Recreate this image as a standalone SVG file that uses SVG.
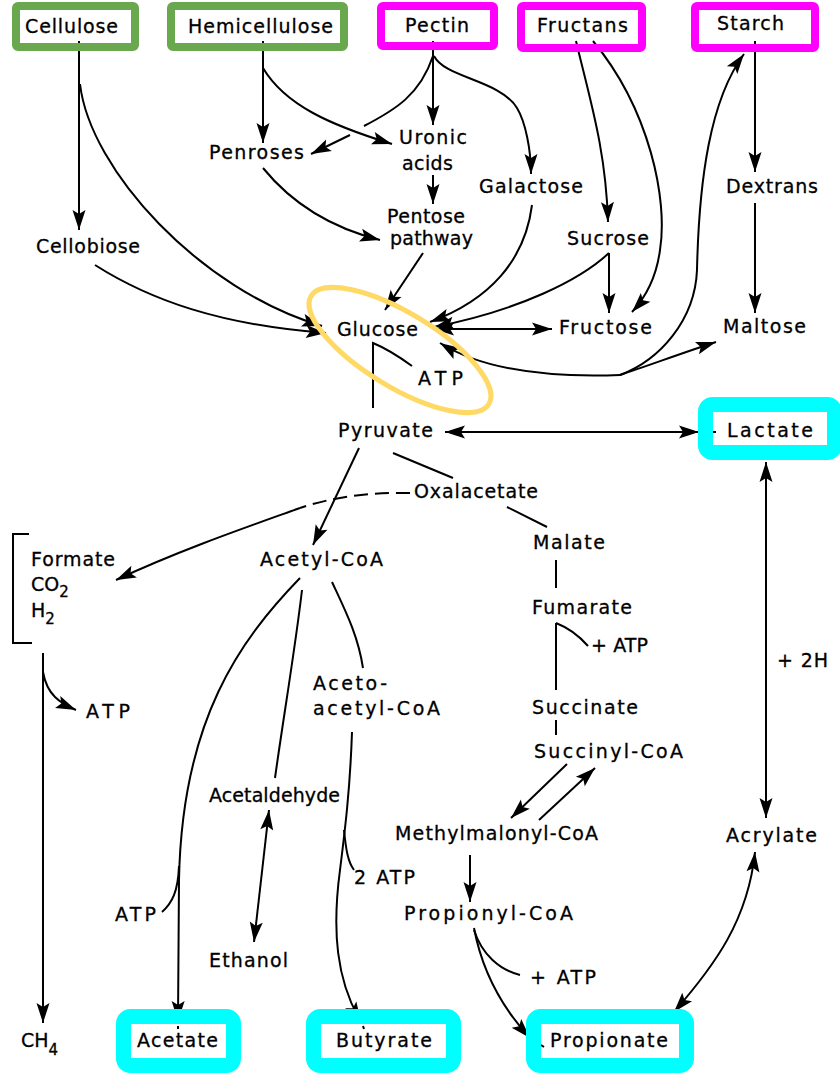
<svg xmlns="http://www.w3.org/2000/svg" width="840" height="1075" viewBox="0 0 840 1075">
<defs>
<style>
.ln{fill:none;stroke:#000;stroke-width:2}
.ar{marker-end:url(#ah)}
.ar2{marker-start:url(#ah);marker-end:url(#ah)}
.as{marker-start:url(#ah)}
.dash{stroke-dasharray:14 7}
.t{font-family:"DejaVu Sans","Liberation Sans",Arial,sans-serif;font-size:19px;fill:#000;stroke:#000;stroke-width:0.3}
.sub{font-size:15px}
.g{fill:none;stroke:#6aa84f;stroke-width:8}
.m{fill:none;stroke:#ff00ff;stroke-width:8}
.c{fill:none;stroke:#00ffff;stroke-width:15}
.hl{fill:none;stroke:#ffd966;stroke-width:5}
</style>
<marker id="ah" viewBox="-21 -7 22 14" markerWidth="22" markerHeight="14" refX="0" refY="0" orient="auto-start-reverse" markerUnits="userSpaceOnUse">
<path d="M0,0 L-20,-6.5 L-16,0 L-20,6.5 Z" fill="#000"/>
</marker>
</defs>
<rect width="840" height="1075" fill="#fff"/>

<g id="connectors">
<path class="ln ar" d="M79,41 L79,230"/>
<path class="ln ar" d="M80,84 C90,170 200,290 322,326"/>
<path class="ln ar" d="M95,265 C150,300 220,325 326,333"/>
<path class="ln ar" d="M263,41 L263,143"/>
<path class="ln ar" d="M263,68 C285,105 330,125 392,144"/>
<path class="ln" d="M433,56 C420,95 395,110 364,126"/>
<path class="ln ar" d="M350,135 L311,154"/>
<path class="ln ar" d="M433,41 L433,125"/>
<path class="ln ar" d="M434,56 C445,78 500,80 517,108 C525.5,122 531,150 531,174"/>
<path class="ln ar" d="M433,175 L433,204"/>
<path class="ln ar" d="M263,168 C285,195 320,225 380,240"/>
<path class="ln ar" d="M423,253 L385,310"/>
<path class="ln ar" d="M532,205 C525,260 490,300 430,322"/>
<path class="ln ar" d="M576,41 C590,100 606,150 608,222"/>
<path class="ln ar" d="M593,41 C650,110 668,200 660,250 C656,280 645,298 632,312"/>
<path class="ln ar" d="M609,253 C580,280 520,310 434,327"/>
<path class="ln ar" d="M609,253 L609,313"/>
<path class="ln ar2" d="M434,329 L552,329"/>
<path class="ln as" d="M440,343 C480,368 540,378 620,375"/>
<path class="ln ar" d="M620,375 C660,360 695,320 697,270 C699,180 710,100 744,54"/>
<path class="ln ar" d="M620,375 C650,365 685,352 716,342"/>
<path class="ln ar" d="M755,41 L755,172"/>
<path class="ln ar" d="M755,203 L755,313"/>
<path class="ln" d="M373,408 L373,343 Q390,350 412,366"/>
<path class="ln ar2" d="M445,432 L699,432"/>
<path class="ln" d="M713,432 L716,432"/>
<path class="ln ar2" d="M766,462 L766,818"/>
<path class="ln ar" d="M359,448 L313,545"/>
<path class="ln" d="M393,453 L453,478"/>
<path class="ln" d="M507,507 L547,527"/>
<path class="ln dash" d="M410,493 C365,492 330,498 300,508"/>
<path class="ln ar" d="M300,508 C250,526 180,550 116,580"/>
<path class="ln ar" d="M300,578 C240,640 182,720 179,880 L178,1021"/>
<path class="ln" d="M178,1026 L178,1029"/>
<path class="ln" d="M179,866 C178,892 172,903 162,912"/>
<path class="ln" d="M332,582 C345,610 358,635 363,668"/>
<path class="ln" d="M302,590 C295,650 283,720 275,778"/>
<path class="ln ar2" d="M269,810 L254,942"/>
<path class="ln ar" d="M352,732 C350,790 345,830 340,870 C332,930 336,980 361,1022"/>
<path class="ln" d="M363,1026 L364,1029"/>
<path class="ln" d="M344,830 C346,850 348,862 354,870"/>
<path class="ln ar" d="M43,653 L43,1023"/>
<path class="ln ar" d="M43,672 C47,695 60,703 76,710"/>
<path class="ln" d="M556,560 L556,588"/>
<path class="ln" d="M556,623 L556,690 M556,623 Q574,630 588,646"/>
<path class="ln" d="M556,720 L556,735"/>
<path class="ln ar" d="M567,764 L511,818"/>
<path class="ln ar" d="M539,820 L595,768"/>
<path class="ln ar" d="M470,855 L470,902"/>
<path class="ln ar" d="M474,928 C480,960 495,1000 530,1038"/>
<path class="ln" d="M541,1045 L544,1047"/>
<path class="ln" d="M474,930 C482,955 500,970 520,975"/>
<path class="ln ar2" d="M755,852 C748,920 715,965 674,1012"/>
<path class="ln" d="M29,534 L13,534 L13,643 L32,643"/>
</g>

<g id="cellulose"><rect class="g" x="16" y="6" width="119" height="41" rx="2"/><text class="t" x="25" y="33" textLength="93" lengthAdjust="spacing">Cellulose</text></g>
<g id="hemicellulose"><rect class="g" x="171" y="6" width="173" height="41" rx="2"/><text class="t" x="188" y="33" textLength="145" lengthAdjust="spacing">Hemicellulose</text></g>
<g id="pectin"><rect class="m" x="381" y="6" width="113" height="40" rx="2"/><text class="t" x="405" y="32" textLength="64" lengthAdjust="spacing">Pectin</text></g>
<g id="fructans"><rect class="m" x="521" y="6" width="121" height="42" rx="2"/><text class="t" x="537" y="32" textLength="91" lengthAdjust="spacing">Fructans</text></g>
<g id="starch"><rect class="m" x="695" y="6" width="120" height="42" rx="2"/><text class="t" x="717" y="30" textLength="67" lengthAdjust="spacing">Starch</text></g>

<g id="penroses"><text class="t" x="209" y="159" textLength="95" lengthAdjust="spacing">Penroses</text></g>
<g id="uronic-acids"><text class="t" x="399" y="144" textLength="68" lengthAdjust="spacing">Uronic</text><text class="t" x="402" y="170" textLength="51" lengthAdjust="spacing">acids</text></g>
<g id="pentose-pathway"><text class="t" x="387" y="223" textLength="78" lengthAdjust="spacing">Pentose</text><text class="t" x="390" y="245" textLength="83" lengthAdjust="spacing">pathway</text></g>
<g id="galactose"><text class="t" x="479" y="193" textLength="104" lengthAdjust="spacing">Galactose</text></g>
<g id="cellobiose"><text class="t" x="36" y="253" textLength="104" lengthAdjust="spacing">Cellobiose</text></g>
<g id="sucrose"><text class="t" x="567" y="245" textLength="82" lengthAdjust="spacing">Sucrose</text></g>
<g id="dextrans"><text class="t" x="726" y="193" textLength="92" lengthAdjust="spacing">Dextrans</text></g>
<g id="glucose"><text class="t" x="337" y="336" textLength="81" lengthAdjust="spacing">Glucose</text></g>
<g id="atp-glucose"><text class="t" x="418" y="385" textLength="45" lengthAdjust="spacing">ATP</text></g>
<g id="fructose"><text class="t" x="559" y="334" textLength="93" lengthAdjust="spacing">Fructose</text></g>
<g id="maltose"><text class="t" x="723" y="333" textLength="83" lengthAdjust="spacing">Maltose</text></g>
<g id="pyruvate"><text class="t" x="338" y="437" textLength="95" lengthAdjust="spacing">Pyruvate</text></g>
<g id="lactate"><rect class="c" x="705.5" y="404.5" width="129" height="48" rx="7"/><text class="t" x="727" y="437" textLength="86" lengthAdjust="spacing">Lactate</text></g>
<g id="oxalacetate"><text class="t" x="414" y="498" textLength="124" lengthAdjust="spacing">Oxalacetate</text></g>
<g id="formate-co2-h2"><text class="t" x="31" y="566" textLength="84" lengthAdjust="spacing">Formate</text><text class="t" x="31" y="591">CO<tspan class="sub" dy="6">2</tspan></text><text class="t" x="31" y="617">H<tspan class="sub" dy="7">2</tspan></text></g>
<g id="acetyl-coa"><text class="t" x="260" y="566" textLength="123" lengthAdjust="spacing">Acetyl-CoA</text></g>
<g id="malate"><text class="t" x="533" y="549" textLength="72" lengthAdjust="spacing">Malate</text></g>
<g id="fumarate"><text class="t" x="532" y="614" textLength="100" lengthAdjust="spacing">Fumarate</text></g>
<g id="atp-fumarate"><text class="t" x="591" y="652" textLength="57" lengthAdjust="spacing">+ ATP</text></g>
<g id="succinate"><text class="t" x="532" y="714" textLength="106" lengthAdjust="spacing">Succinate</text></g>
<g id="succinyl-coa"><text class="t" x="534" y="758" textLength="149" lengthAdjust="spacing">Succinyl-CoA</text></g>
<g id="acetoacetyl-coa"><text class="t" x="313" y="690" textLength="74" lengthAdjust="spacing">Aceto-</text><text class="t" x="313" y="715" textLength="127" lengthAdjust="spacing">acetyl-CoA</text></g>
<g id="atp-formate"><text class="t" x="86" y="718" textLength="44" lengthAdjust="spacing">ATP</text></g>
<g id="plus-2h"><text class="t" x="777" y="667" textLength="51" lengthAdjust="spacing">+ 2H</text></g>
<g id="acetaldehyde"><text class="t" x="209" y="802" textLength="131" lengthAdjust="spacing">Acetaldehyde</text></g>
<g id="methylmalonyl-coa"><text class="t" x="395" y="840" textLength="203" lengthAdjust="spacing">Methylmalonyl-CoA</text></g>
<g id="acrylate"><text class="t" x="726" y="842" textLength="91" lengthAdjust="spacing">Acrylate</text></g>
<g id="atp-2"><text class="t" x="354" y="884" textLength="61" lengthAdjust="spacing">2 ATP</text></g>
<g id="atp-acetate"><text class="t" x="115" y="921" textLength="41" lengthAdjust="spacing">ATP</text></g>
<g id="propionyl-coa"><text class="t" x="404" y="920" textLength="169" lengthAdjust="spacing">Propionyl-CoA</text></g>
<g id="ethanol"><text class="t" x="209" y="967" textLength="79" lengthAdjust="spacing">Ethanol</text></g>
<g id="atp-propionyl"><text class="t" x="530" y="984" textLength="66" lengthAdjust="spacing">+ ATP</text></g>
<g id="ch4"><text class="t" x="21" y="1047">CH<tspan class="sub" dy="8">4</tspan></text></g>
<g id="acetate"><rect class="c" x="123.5" y="1016.5" width="110" height="49" rx="7"/><text class="t" x="137" y="1047" textLength="81" lengthAdjust="spacing">Acetate</text></g>
<g id="butyrate"><rect class="c" x="313.5" y="1016.5" width="140" height="49" rx="7"/><text class="t" x="336" y="1047" textLength="96" lengthAdjust="spacing">Butyrate</text></g>
<g id="propionate"><rect class="c" x="533.5" y="1016.5" width="153" height="49" rx="7"/><text class="t" x="550" y="1047" textLength="118" lengthAdjust="spacing">Propionate</text></g>

<g id="glucose-highlight"><ellipse class="hl" cx="400" cy="350" rx="104" ry="37" transform="rotate(31.3 400 350)"/></g>
</svg>
